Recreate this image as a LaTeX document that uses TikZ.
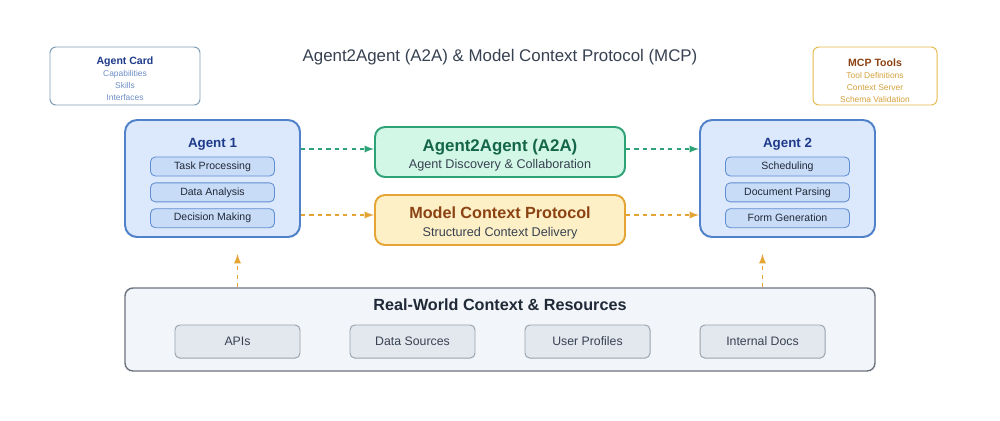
\documentclass[tikz,border=0pt]{standalone}
\usepackage{fontspec}
\setmainfont{Liberation Sans}
\usetikzlibrary{arrows}
\usetikzlibrary{positioning}

\definecolor{agfill}{HTML}{DCE8FB}
\definecolor{agline}{HTML}{4F82CA}
\definecolor{agtext}{HTML}{1E3A8A}
\definecolor{tkfill}{HTML}{C9DCF7}
\definecolor{tkline}{HTML}{5F8ED3}
\definecolor{txdark}{HTML}{1F2937}
\definecolor{txgray}{HTML}{374151}
\definecolor{a2afill}{HTML}{D3F7E6}
\definecolor{a2aline}{HTML}{2EA377}
\definecolor{a2atext}{HTML}{14664A}
\definecolor{mcpfill}{HTML}{FDF0C6}
\definecolor{mcpline}{HTML}{E4A534}
\definecolor{mcptext}{HTML}{8C4212}
\definecolor{resfill}{HTML}{F2F5F9}
\definecolor{resline}{HTML}{6B7280}
\definecolor{itfill}{HTML}{E3E8EF}
\definecolor{itline}{HTML}{9AA3AF}
\definecolor{cardline}{HTML}{7D9DB6}
\definecolor{carditem}{HTML}{6E8FC6}
\definecolor{toolline}{HTML}{E6BA4E}
\definecolor{toolitem}{HTML}{D4A23C}

\begin{document}
\begin{tikzpicture}[
  > = latex,
  agent/.style = {draw=agline, fill=agfill, line width=1.4pt, rounded corners=0.3cm, minimum width=4.375cm, minimum height=2.925cm},
  task/.style = {draw=tkline, fill=tkfill, line width=0.6pt, rounded corners=0.12cm, minimum width=3.1cm, minimum height=0.475cm, inner sep=0pt, text=txdark, font=\fontsize{7.5}{9}\selectfont},
  proto/.style = {line width=1.4pt, rounded corners=0.25cm, minimum width=6.25cm, minimum height=1.25cm},
  prototext/.style = {align=center, text=txgray, font=\fontsize{9}{11}\selectfont},
  card/.style = {fill=white, line width=0.7pt, rounded corners=0.15cm, minimum height=1.45cm},
  cardtext/.style = {align=center, font=\fontsize{6}{8.5}\selectfont},
  item/.style = {draw=itline, fill=itfill, line width=0.7pt, rounded corners=0.12cm, minimum width=3.125cm, minimum height=0.825cm, inner sep=0pt, outer sep=0pt, text=txgray, font=\fontsize{8.75}{10}\selectfont},
  link/.style = {dashed, line width=1.3pt}
  ]
	\fill[white] (0,0) rectangle (25,-10.5);
	\useasboundingbox (0,0) rectangle (25,-10.5);

	\node[text=txgray, font=\fontsize{12}{14}\selectfont] (title) at (12.5,-1.425) {Agent2Agent (A2A) \& Model Context Protocol (MCP)};

	\node[card, draw=cardline, minimum width=3.75cm] (card) at (3.125,-1.9) {};
	\node[cardtext, text=carditem] at ([yshift=-0.07cm]card)
		{{\fontsize{7.5}{9}\selectfont\bfseries\color{agtext}Agent Card}\\Capabilities\\Skills\\Interfaces};
	\node[card, draw=toolline, minimum width=3.1cm] (tools) at (21.875,-1.9) {};
	\node[cardtext, text=toolitem] at ([yshift=-0.11cm]tools)
		{{\fontsize{7.5}{9}\selectfont\bfseries\color{mcptext}MCP Tools}\\Tool Definitions\\Context Server\\Schema Validation};

	\node[agent] (ag1) at (5.3125,-4.4625) {};
	\node[agent] (ag2) at (19.6875,-4.4625) {};
	\node[text=agtext, font=\fontsize{9.5}{12}\selectfont\bfseries] at ([yshift=-0.63cm]ag1.north) {Agent 1};
	\node[text=agtext, font=\fontsize{9.5}{12}\selectfont\bfseries] at ([yshift=-0.63cm]ag2.north) {Agent 2};

	\node[task] (t1) at (5.3125,-4.1625) {Task Processing};
	\node[task, below=0.15cm of t1] (t2) {Data Analysis};
	\node[task, below=0.15cm of t2] (t3) {Decision Making};
	\node[task] (s1) at (19.6875,-4.1625) {Scheduling};
	\node[task, below=0.15cm of s1] (s2) {Document Parsing};
	\node[task, below=0.15cm of s2] (s3) {Form Generation};

	\node[proto, draw=a2aline, fill=a2afill] (a2a) at (12.5,-3.8) {};
	\node[prototext] at ([yshift=-0.08cm]a2a)
		{{\fontsize{12}{14}\selectfont\bfseries\color{a2atext}Agent2Agent (A2A)}\\[1.5pt]Agent Discovery \& Collaboration};
	\node[proto, draw=mcpline, fill=mcpfill] (mcp) at (12.5,-5.5) {};
	\node[prototext] at ([yshift=-0.07cm]mcp)
		{{\fontsize{11.5}{14}\selectfont\bfseries\color{mcptext}Model Context Protocol}\\[1.5pt]Structured Context Delivery};

	\draw[link, a2aline, ->] ([yshift=0.075cm]ag1.east |- a2a.west) to ([yshift=0.075cm]a2a.west);
	\draw[link, a2aline, ->] ([yshift=0.075cm]a2a.east) to ([yshift=0.075cm]ag2.west |- a2a.east);
	\draw[link, mcpline, ->] ([yshift=0.125cm]ag1.east |- mcp.west) to ([yshift=0.125cm]mcp.west);
	\draw[link, mcpline, ->] ([yshift=0.125cm]mcp.east) to ([yshift=0.125cm]ag2.west |- mcp.east);

	\node[draw=resline, fill=resfill, line width=1pt, rounded corners=0.2cm, minimum width=18.75cm, minimum height=2.075cm] (res) at (12.5,-8.2375) {};
	\node[text=txdark, font=\fontsize{11.5}{13}\selectfont\bfseries] at (12.5,-7.62) {Real-World Context \& Resources};

	\node[item] (apis) at (5.9375,-8.5375) {APIs};
	\node[item, right=1.25cm of apis] (src) {Data Sources};
	\node[item, right=1.25cm of src] (prof) {User Profiles};
	\node[item, right=1.25cm of prof] (docs) {Internal Docs};

	\coordinate (up1) at ([yshift=-0.4cm]apis |- ag1.south);
	\coordinate (up2) at ([yshift=-0.4cm]docs |- ag2.south);
	\draw[link, mcpline, ->] (apis |- res.north) to (up1);
	\draw[link, mcpline, ->] (docs |- res.north) to (up2);

\end{tikzpicture}
\end{document}
